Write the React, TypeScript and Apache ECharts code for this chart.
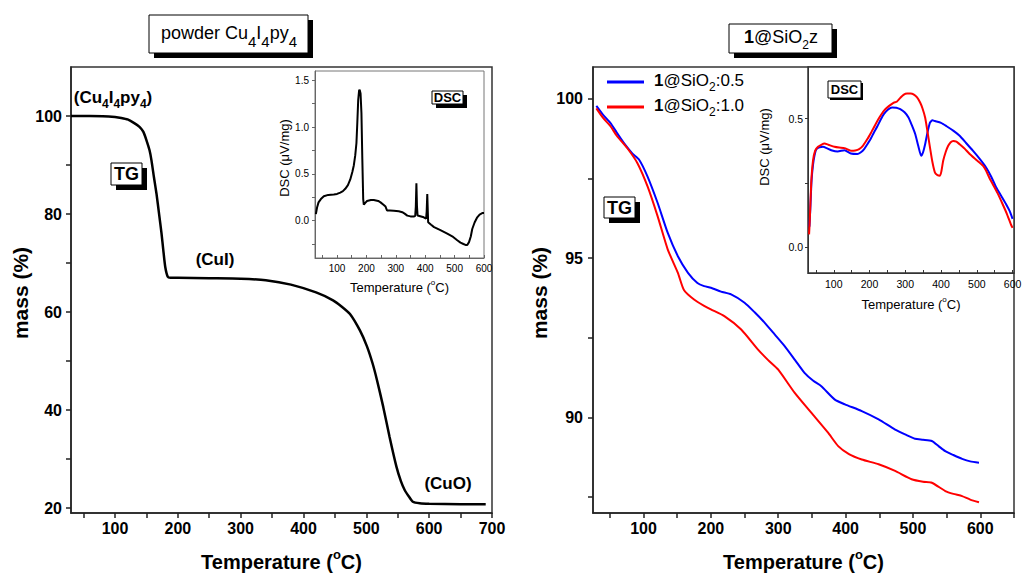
import React, { useEffect, useRef } from 'react';
import * as echarts from 'echarts';

const FONT = "'Liberation Sans', Arial, sans-serif";

// ---- Left panel: powder Cu4I4py4 ----
const powderTgT = [30, 60, 90, 100, 110, 120, 130, 139, 145, 150, 155, 158, 162, 166, 170, 174, 177, 180, 184, 188, 200, 250, 300, 340, 380, 420, 447, 460, 474, 490, 501, 510, 517, 527, 537, 548, 555, 561, 568, 574, 585, 600, 650, 690];
const powderTgMass = [100, 100, 99.9, 99.8, 99.6, 99.3, 98.6, 97.8, 96.8, 95.1, 93, 91, 87.5, 84.2, 80.2, 76.1, 72.5, 69.2, 67.2, 67.0, 67.0, 66.9, 66.8, 66.5, 65.6, 64.0, 62.4, 61.2, 59.6, 56.2, 53, 49.5, 46.1, 40.6, 34.5, 28.4, 25.5, 23.7, 22.3, 21.3, 21.0, 20.9, 20.8, 20.8];

const powderDscT = [28, 32, 37, 45, 55, 70, 89, 100, 111, 120, 128, 137, 145, 152, 157, 162, 166, 169, 172, 175, 177, 180, 183, 186, 189, 191, 196, 202, 215, 225, 240, 248, 258, 265, 270, 280, 293, 310, 322, 330, 339, 350, 361, 366, 368, 370, 372, 374, 380, 395, 403, 405, 407, 409, 410, 420, 430, 450, 475, 495, 509, 520, 530, 537, 543, 549, 555, 560, 568, 577, 585, 594, 600];
const powderDscVal = [0.07, 0.14, 0.195, 0.23, 0.26, 0.275, 0.28, 0.285, 0.3, 0.315, 0.34, 0.38, 0.44, 0.52, 0.59, 0.7, 0.83, 1.05, 1.29, 1.39, 1.4, 1.36, 1.15, 0.66, 0.23, 0.17, 0.19, 0.21, 0.22, 0.22, 0.21, 0.195, 0.17, 0.15, 0.108, 0.108, 0.106, 0.1, 0.09, 0.075, 0.053, 0.045, 0.043, 0.05, 0.15, 0.4, 0.15, 0.055, 0.05, 0.035, 0.02, 0.1, 0.284, 0.08, -0.018, -0.045, -0.07, -0.1, -0.14, -0.175, -0.21, -0.235, -0.25, -0.26, -0.26, -0.23, -0.17, -0.09, -0.02, 0.035, 0.065, 0.08, 0.08];

// ---- Right panel: 1@SiO2z ----
const seriesNames = ['1@SiO2:0.5', '1@SiO2:1.0'];

const sio05TgT = [30, 40, 51, 60, 71, 83.6, 93.5, 106, 121, 136, 151, 166, 180, 190, 200, 215, 230, 250, 265, 280, 295, 309.5, 325, 339, 352, 364, 384, 399, 424, 449, 473.5, 490, 503, 515, 528, 538, 548, 560, 573, 585, 598];
const sio05TgMass = [99.78, 99.5, 99.24, 98.95, 98.61, 98.28, 98.09, 97.56, 96.73, 95.79, 95.06, 94.54, 94.22, 94.12, 94.07, 93.95, 93.86, 93.6, 93.3, 92.97, 92.6, 92.24, 91.8, 91.4, 91.15, 90.98, 90.56, 90.41, 90.2, 89.94, 89.62, 89.45, 89.33, 89.3, 89.26, 89.1, 88.94, 88.82, 88.7, 88.62, 88.58];

const sio10TgT = [30, 40, 51, 60, 76, 91, 106, 121, 136, 151, 160, 175, 190, 200, 220, 245, 270, 285, 300, 324.5, 349, 374, 389, 405, 424, 449, 473.5, 498, 515, 528, 548, 560, 573, 585, 598];
const sio10TgMass = [99.7, 99.4, 99.14, 98.85, 98.45, 97.98, 97.25, 96.31, 95.27, 94.54, 94.0, 93.7, 93.5, 93.39, 93.18, 92.76, 92.13, 91.8, 91.5, 90.77, 90.15, 89.52, 89.1, 88.85, 88.68, 88.53, 88.32, 88.06, 87.98, 87.95, 87.69, 87.6, 87.53, 87.42, 87.34];

const sio05DscT = [32, 34.5, 38, 42, 46, 51, 60, 70, 80, 93, 111, 130, 148, 166, 175, 185, 194, 203, 212, 222, 231, 240, 252, 263, 275, 286, 298, 309, 318, 328, 336, 344.5, 350, 355.5, 362, 369, 376, 383, 400, 415.5, 435, 452, 470, 489, 507, 526, 540, 554, 568, 581.5, 592, 600];
const sio05DscVal = [0.08, 0.15, 0.26, 0.32, 0.355, 0.38, 0.388, 0.39, 0.385, 0.377, 0.372, 0.377, 0.364, 0.362, 0.368, 0.381, 0.4, 0.42, 0.445, 0.47, 0.495, 0.517, 0.535, 0.543, 0.542, 0.536, 0.524, 0.504, 0.475, 0.439, 0.395, 0.355, 0.37, 0.4, 0.445, 0.484, 0.493, 0.49, 0.483, 0.47, 0.452, 0.433, 0.405, 0.375, 0.345, 0.31, 0.275, 0.233, 0.2, 0.168, 0.14, 0.11];

const sio10DscT = [31, 33, 37, 42, 48, 56, 65, 74, 85, 102, 115, 130, 148, 160, 171, 182, 194, 205, 217, 228, 240, 254, 268, 276, 286, 295, 305, 315, 323, 333, 341.5, 348, 355.5, 362, 369, 376, 383, 390, 397, 401, 406, 413, 420, 427, 434, 443, 452, 466, 480, 498, 517, 525, 535, 544.6, 558, 572, 584, 595, 600];
const sio10DscVal = [0.05, 0.106, 0.25, 0.336, 0.375, 0.39, 0.398, 0.403, 0.398, 0.39, 0.387, 0.385, 0.375, 0.376, 0.381, 0.395, 0.42, 0.447, 0.478, 0.505, 0.53, 0.548, 0.562, 0.565, 0.58, 0.592, 0.597, 0.597, 0.594, 0.582, 0.562, 0.54, 0.504, 0.45, 0.388, 0.33, 0.29, 0.28, 0.278, 0.295, 0.336, 0.37, 0.394, 0.408, 0.413, 0.41, 0.4, 0.383, 0.362, 0.34, 0.317, 0.3, 0.27, 0.245, 0.21, 0.168, 0.13, 0.09, 0.075];

// ---- tick values ----
const powderTgXLabels = [100, 200, 300, 400, 500, 600, 700];
const powderTgXTicks = [50, 100, 150, 200, 250, 300, 350, 400, 450, 500, 550, 600, 650, 700];
const powderTgYLabels = [20, 40, 60, 80, 100];
const powderTgYTicks = [20, 30, 40, 50, 60, 70, 80, 90, 100];
const powderDscXLabels = [100, 200, 300, 400, 500, 600];
const powderDscXTicks = [50, 100, 150, 200, 250, 300, 350, 400, 450, 500, 550, 600];
const powderDscYLabels = [0, 0.5, 1.0, 1.5];
const powderDscYTicks = [-0.25, 0, 0.25, 0.5, 0.75, 1.0, 1.25, 1.5];
const sioTgXLabels = [100, 200, 300, 400, 500, 600];
const sioTgXTicks = [50, 100, 150, 200, 250, 300, 350, 400, 450, 500, 550, 600, 650];
const sioTgYLabels = [90, 95, 100];
const sioTgYTicks = [87.5, 90, 92.5, 95, 97.5, 100];
const sioDscXLabels = [100, 200, 300, 400, 500, 600];
const sioDscXTicks = [50, 100, 150, 200, 250, 300, 350, 400, 450, 500, 550, 600];
const sioDscYLabels = [0, 0.5];
const sioDscYTicks = [0, 0.25, 0.5];

const pairs = (xs: number[], ys: number[]) => xs.map((x, i) => [x, ys[i]]);

function axis(o: any) {
  return {
    type: 'value',
    gridIndex: o.grid,
    min: o.min,
    max: o.max,
    name: o.name,
    nameLocation: 'middle',
    nameGap: o.nameGap,
    nameTextStyle: o.nameTextStyle,
    axisLine: { show: true, onZero: false, lineStyle: { color: o.color, width: o.lw } },
    axisTick: { show: true, inside: !!o.inside, length: o.tickLen, customValues: o.ticks, lineStyle: { color: o.color, width: o.lw } },
    axisLabel: {
      customValues: o.labels,
      margin: o.margin,
      fontSize: o.fs,
      fontWeight: o.bold ? 'bold' : 'normal',
      fontFamily: FONT,
      color: '#000',
      formatter: o.fmt,
    },
    splitLine: { show: false },
    minorTick: { show: false },
  };
}

const tempName = '{t|Temperature (}{p|o}{t|C)}';
const bigNameStyle = {
  rich: {
    t: { fontSize: 20, fontWeight: 'bold', fontFamily: FONT, color: '#000', verticalAlign: 'bottom', lineHeight: 24 },
    p: { fontSize: 13, fontWeight: 'bold', fontFamily: FONT, color: '#000', verticalAlign: 'top', lineHeight: 10 },
  },
};
const smallNameStyle = {
  rich: {
    t: { fontSize: 13, fontFamily: FONT, color: '#000', verticalAlign: 'bottom', lineHeight: 16 },
    p: { fontSize: 8, fontFamily: FONT, color: '#000', verticalAlign: 'top', lineHeight: 6 },
  },
};
const yNameStyle = { fontSize: 21, fontWeight: 'bold', fontFamily: FONT, color: '#000', padding: [0, 0, 0, -6] };

function shadowBox(x: number, y: number, w: number, h: number, off: number) {
  return [
    { type: 'rect', z: 100, shape: { x: x + off, y: y + off, width: w, height: h }, style: { fill: '#000' } },
    { type: 'rect', z: 101, shape: { x, y, width: w, height: h }, style: { fill: '#fff', stroke: '#000', lineWidth: 1 } },
  ];
}

function txt(x: number, y: number, text: string, rich: any, extra: any = {}) {
  return {
    type: 'text', z: 102, x, y, ...extra,
    style: { text, rich, fill: '#000', align: 'center', verticalAlign: 'middle', fontFamily: FONT, ...(extra.style || {}) },
  };
}

const subRich = (fs: number, sfs: number, pad: number, bold: boolean) => ({
  m: { fontSize: fs, fontWeight: bold ? 'bold' : 'normal', fontFamily: FONT, color: '#000', verticalAlign: 'top', lineHeight: fs + 3 },
  b: { fontSize: fs, fontWeight: 'bold', fontFamily: FONT, color: '#000', verticalAlign: 'top', lineHeight: fs + 3 },
  s: { fontSize: sfs, fontWeight: bold ? 'bold' : 'normal', fontFamily: FONT, color: '#000', verticalAlign: 'top', lineHeight: sfs, padding: [pad, 0, 0, 0] },
});

export default function App() {
  const ref = useRef<HTMLDivElement>(null);
  useEffect(() => {
    if (!ref.current) return;
    const chart = echarts.init(ref.current, undefined, { renderer: 'svg' });
    const fmt1 = (v: number) => v.toFixed(1);
    const gridBase = { show: true, containLabel: false, outerBoundsMode: 'none' };
    const option: any = {
      animation: false,
      backgroundColor: '#fff',
      textStyle: { fontFamily: FONT },
      grid: [
        { ...gridBase, left: 71, top: 67, width: 421, height: 446, borderColor: '#333', borderWidth: 1.5, backgroundColor: 'transparent' },
        { ...gridBase, left: 315, top: 71, width: 169, height: 187, borderColor: '#777', borderWidth: 1, backgroundColor: '#fff' },
        { ...gridBase, left: 593, top: 67, width: 421, height: 446, borderColor: '#333', borderWidth: 1.5, backgroundColor: 'transparent' },
        { ...gridBase, left: 808, top: 67, width: 206, height: 206, borderColor: '#333', borderWidth: 1.5, backgroundColor: '#fff' },
      ],
      xAxis: [
        axis({ grid: 0, min: 30, max: 700, labels: powderTgXLabels, ticks: powderTgXTicks, color: '#222', lw: 1.5, tickLen: 5, margin: 7, fs: 16, bold: true, name: tempName, nameGap: 35, nameTextStyle: bigNameStyle }),
        axis({ grid: 1, min: 25, max: 600, labels: powderDscXLabels, ticks: powderDscXTicks, color: '#666', lw: 1, tickLen: 3, inside: true, margin: 5, fs: 10, name: tempName, nameGap: 20, nameTextStyle: smallNameStyle }),
        axis({ grid: 2, min: 25, max: 650, labels: sioTgXLabels, ticks: sioTgXTicks, color: '#222', lw: 1.5, tickLen: 5, margin: 7, fs: 16, bold: true, name: tempName, nameGap: 35, nameTextStyle: bigNameStyle }),
        axis({ grid: 3, min: 28, max: 604, labels: sioDscXLabels, ticks: sioDscXTicks, color: '#333', lw: 1, tickLen: 3, inside: true, margin: 5, fs: 10.5, name: tempName, nameGap: 22, nameTextStyle: smallNameStyle }),
      ],
      yAxis: [
        axis({ grid: 0, min: 19, max: 110, labels: powderTgYLabels, ticks: powderTgYTicks, color: '#222', lw: 1.5, tickLen: 5, margin: 9, fs: 16, bold: true, name: 'mass (%)', nameGap: 40, nameTextStyle: yNameStyle }),
        axis({ grid: 1, min: -0.4, max: 1.6, labels: powderDscYLabels, ticks: powderDscYTicks, color: '#666', lw: 1, tickLen: 3, margin: 6, fs: 10, fmt: fmt1 }),
        axis({ grid: 2, min: 87, max: 101, labels: sioTgYLabels, ticks: sioTgYTicks, color: '#222', lw: 1.5, tickLen: 5, margin: 10, fs: 16, bold: true, name: 'mass (%)', nameGap: 43, nameTextStyle: yNameStyle }),
        axis({ grid: 3, min: -0.1, max: 0.7, labels: sioDscYLabels, ticks: sioDscYTicks, color: '#333', lw: 1, tickLen: 3, margin: 5, fs: 10.5, fmt: fmt1 }),
      ],
      legend: {
        data: seriesNames,
        orient: 'vertical',
        left: 607,
        top: 72,
        padding: 0,
        icon: 'rect',
        itemWidth: 37,
        itemHeight: 3,
        itemGap: 4,
        selectedMode: false,
        formatter: (name: string) => {
          const tail = name.split(':')[1];
          return '{b|1}{n|@SiO}{s|2}{n|:' + tail + '}';
        },
        textStyle: {
          color: '#000',
          padding: [0, 0, 0, 5],
          rich: {
            b: { fontSize: 17, fontWeight: 'bold', fontFamily: FONT, color: '#000', verticalAlign: 'top', lineHeight: 20 },
            n: { fontSize: 17, fontFamily: FONT, color: '#000', verticalAlign: 'top', lineHeight: 20 },
            s: { fontSize: 12, fontFamily: FONT, color: '#000', verticalAlign: 'top', lineHeight: 12, padding: [9, 0, 0, 0] },
          },
        },
      },
      series: [
        { type: 'line', name: 'powder TG', xAxisIndex: 0, yAxisIndex: 0, data: pairs(powderTgT, powderTgMass), symbol: 'none', smooth: 0.2, lineStyle: { color: '#000', width: 2.5 }, itemStyle: { color: '#000' } },
        { type: 'line', name: 'powder DSC', xAxisIndex: 1, yAxisIndex: 1, data: pairs(powderDscT, powderDscVal), symbol: 'none', lineStyle: { color: '#000', width: 2 }, itemStyle: { color: '#000' } },
        { type: 'line', name: seriesNames[0], xAxisIndex: 2, yAxisIndex: 2, data: pairs(sio05TgT, sio05TgMass), symbol: 'none', smooth: 0.2, lineStyle: { color: '#0000ff', width: 2 }, itemStyle: { color: '#0000ff' } },
        { type: 'line', name: seriesNames[1], xAxisIndex: 2, yAxisIndex: 2, data: pairs(sio10TgT, sio10TgMass), symbol: 'none', smooth: 0.2, lineStyle: { color: '#ff0000', width: 2 }, itemStyle: { color: '#ff0000' } },
        { type: 'line', name: seriesNames[0], xAxisIndex: 3, yAxisIndex: 3, data: pairs(sio05DscT, sio05DscVal), symbol: 'none', smooth: 0.2, lineStyle: { color: '#0000ff', width: 2 }, itemStyle: { color: '#0000ff' } },
        { type: 'line', name: seriesNames[1], xAxisIndex: 3, yAxisIndex: 3, data: pairs(sio10DscT, sio10DscVal), symbol: 'none', smooth: 0.2, lineStyle: { color: '#ff0000', width: 2 }, itemStyle: { color: '#ff0000' } },
      ],
      graphic: [
        // left title
        ...shadowBox(149, 15, 159, 38, 5),
        txt(229, 34.5, '{m|powder Cu}{s|4}{m|I}{s|4}{m|py}{s|4}', subRich(18, 15, 10, false)),
        // right title
        ...shadowBox(729, 24, 103, 29, 5),
        txt(781, 38, '{b|1}{m|@SiO}{s|2}{m|z}', subRich(18, 12, 11, false)),
        // TG / DSC tags
        ...shadowBox(111, 163, 31, 22, 5),
        txt(126.5, 174, 'TG', null, { style: { fontSize: 18, fontWeight: 'bold' } }),
        ...shadowBox(432, 91, 31, 13, 4),
        txt(447.5, 97.5, 'DSC', null, { style: { fontSize: 13, fontWeight: 'bold' } }),
        ...shadowBox(604, 197, 31, 21, 5),
        txt(619.5, 207.5, 'TG', null, { style: { fontSize: 18, fontWeight: 'bold' } }),
        ...shadowBox(828, 81, 33, 17, 2),
        txt(844.5, 89.5, 'DSC', null, { style: { fontSize: 13, fontWeight: 'bold' } }),
        // phase labels
        txt(113, 99, '{m|(Cu}{s|4}{m|I}{s|4}{m|py}{s|4}{m|)}', subRich(17, 12, 9, true)),
        txt(215, 259, '(CuI)', null, { style: { fontSize: 17, fontWeight: 'bold' } }),
        txt(448, 483, '(CuO)', null, { style: { fontSize: 17, fontWeight: 'bold' } }),
        // inset y-axis names
        txt(284, 158, 'DSC (μV/mg)', null, { rotation: Math.PI / 2, style: { fontSize: 13 } }),
        txt(764, 147, 'DSC (μV/mg)', null, { rotation: Math.PI / 2, style: { fontSize: 13 } }),
      ],
    };
    chart.setOption(option);
    return () => chart.dispose();
  }, []);
  return <div ref={ref} style={{ position: 'absolute', left: 0, top: 0, width: 1022, height: 574 }} />;
}
